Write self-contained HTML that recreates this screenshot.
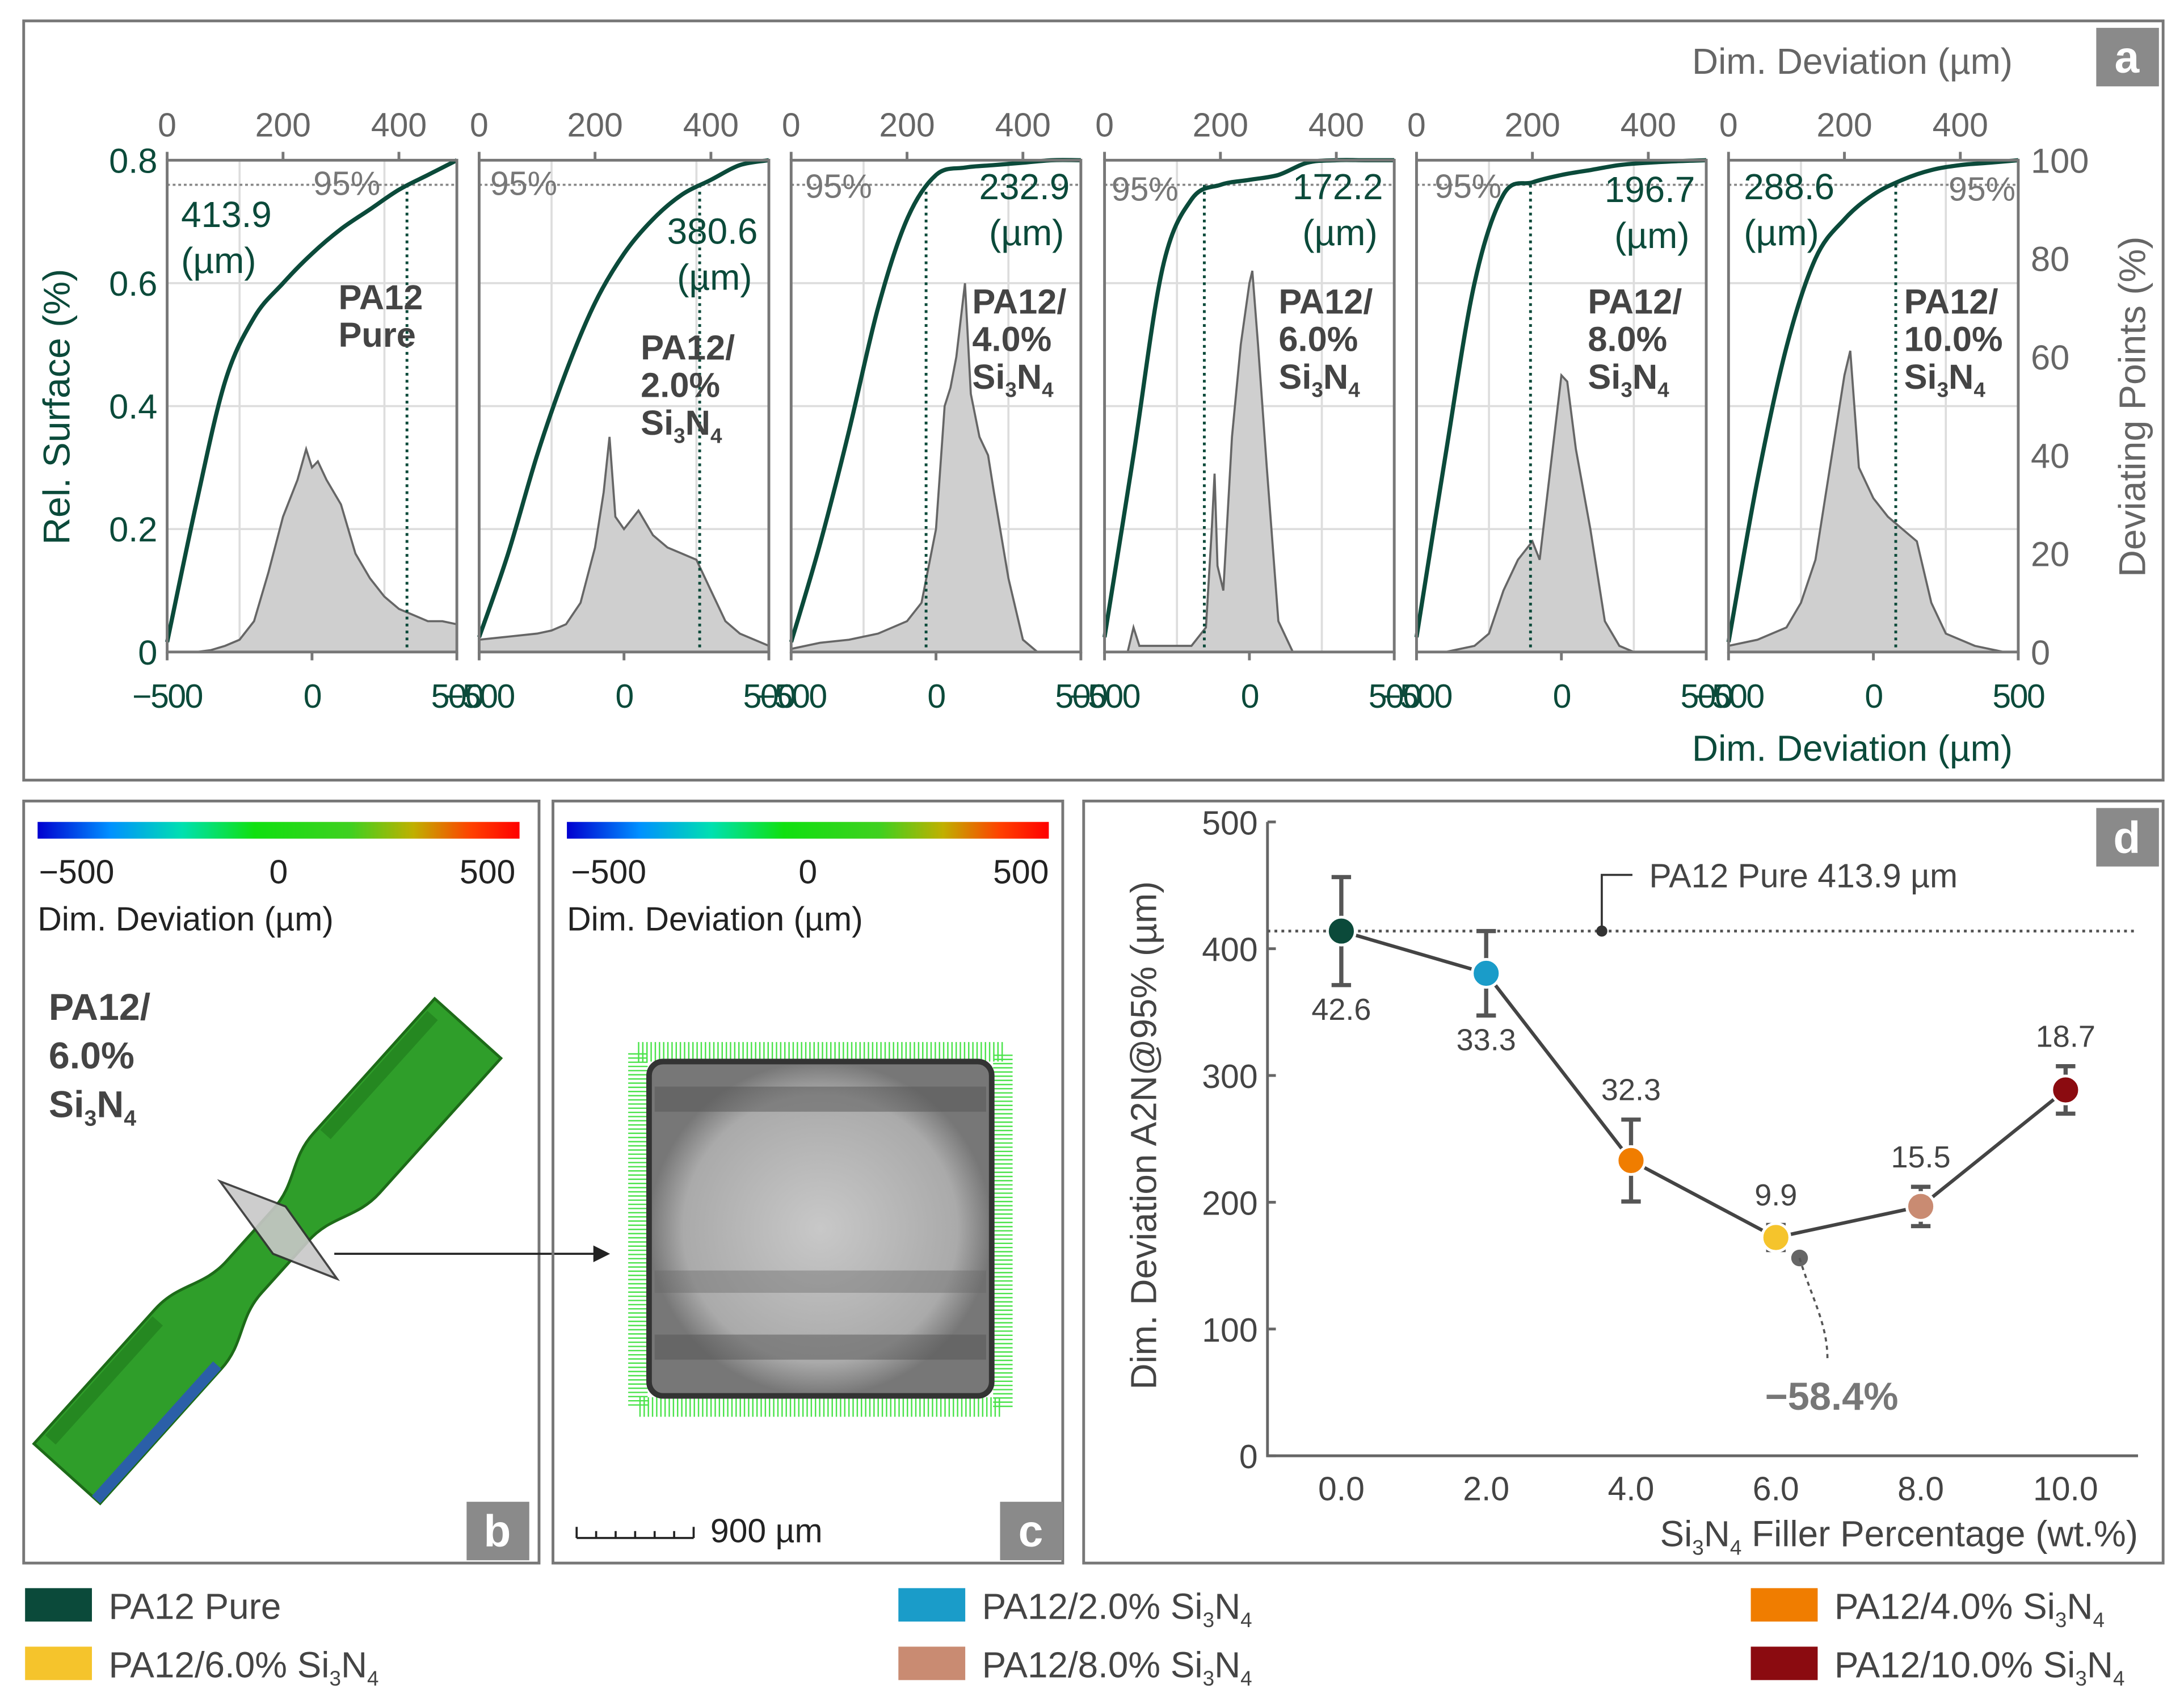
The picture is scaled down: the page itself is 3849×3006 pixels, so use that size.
<!DOCTYPE html>
<html><head><meta charset="utf-8"><style>
html,body{margin:0;padding:0;background:#fff}
svg{display:block}
text{font-family:"Liberation Sans",sans-serif}
</style></head><body>
<svg id="s" width="3849" height="3006" viewBox="0 0 1568 1224.6" preserveAspectRatio="none" xmlns="http://www.w3.org/2000/svg">
<g id="pa">
<rect x="17" y="15" width="1536" height="545" fill="none" stroke="#777" stroke-width="2"/>
<rect x="1505" y="20" width="45" height="42" fill="#8a8a8a"/>
<text x="1527" y="52" font-size="32" font-weight="bold" fill="#fff" text-anchor="middle">a</text>
<text x="1445" y="53" font-size="26" fill="#666" text-anchor="end">Dim. Deviation (µm)</text>
<text x="1445" y="546" font-size="26" fill="#0b4a3a" text-anchor="end">Dim. Deviation (µm)</text>
<text transform="translate(50,292) rotate(-90)" font-size="27" fill="#0b4a3a" text-anchor="middle">Rel. Surface (%)</text>
<text transform="translate(1540,292) rotate(-90)" font-size="27" fill="#666" text-anchor="middle">Deviating Points (%)</text>
</g>
<g id="pb">
<rect x="17" y="575" width="370" height="547" fill="none" stroke="#777" stroke-width="2"/>
<rect x="27" y="590" width="346" height="12" fill="url(#cb)"/>
<text x="55" y="634" font-size="24" fill="#222" text-anchor="middle">−500</text>
<text x="200" y="634" font-size="24" fill="#222" text-anchor="middle">0</text>
<text x="350" y="634" font-size="24" fill="#222" text-anchor="middle">500</text>
<text x="27" y="668" font-size="24" fill="#222">Dim. Deviation (µm)</text>
<text x="35" y="732" font-size="27" font-weight="bold" fill="#444">PA12/</text>
<text x="35" y="767" font-size="27" font-weight="bold" fill="#444">6.0%</text>
<text x="35" y="802" font-size="27" font-weight="bold" fill="#444">Si<tspan font-size="16" dy="6">3</tspan><tspan dy="-6">N</tspan><tspan font-size="16" dy="6">4</tspan></text>
<g transform="translate(192,898) rotate(-48)">
<path d="M-215,-32 L-85,-32 C-60,-32 -50,-17 -25,-17 L25,-17 C50,-17 60,-32 85,-32 L215,-32 L215,32 L85,32 C60,32 50,17 25,17 L-25,17 C-50,17 -60,32 -85,32 L-215,32 Z" fill="#2f9e2a" stroke="#1d6b18" stroke-width="2"/>
<path d="M-205,-25 L-90,-25 M90,-25 L205,-25" stroke="#1f7a1c" stroke-width="10" opacity="0.6"/>
<rect x="-215" y="24" width="130" height="8" fill="#2b5fa8"/>
</g>
<polygon points="158,848 205,866 242,918 196,900" fill="#c8c8c8" stroke="#333" stroke-width="1.5" opacity="0.9"/>
<line x1="240" y1="900" x2="428" y2="900" stroke="#222" stroke-width="1.5"/>
<polygon points="438,900 426,894 426,906" fill="#222"/>
<rect x="335" y="1078" width="45" height="42" fill="#8a8a8a"/>
<text x="357" y="1110" font-size="32" font-weight="bold" fill="#fff" text-anchor="middle">b</text>
</g>
<g id="pc">
<rect x="397" y="575" width="366" height="547" fill="none" stroke="#777" stroke-width="2"/>
<rect x="718" y="1078" width="45" height="42" fill="#8a8a8a"/>
<text x="740" y="1110" font-size="32" font-weight="bold" fill="#fff" text-anchor="middle">c</text>
<rect x="407" y="590" width="346" height="12" fill="url(#cb)"/>
<text x="437" y="634" font-size="24" fill="#222" text-anchor="middle">−500</text>
<text x="580" y="634" font-size="24" fill="#222" text-anchor="middle">0</text>
<text x="733" y="634" font-size="24" fill="#222" text-anchor="middle">500</text>
<text x="407" y="668" font-size="24" fill="#222">Dim. Deviation (µm)</text>
<rect x="458" y="755" width="262" height="255" fill="none" stroke="#4be34b" stroke-width="14" stroke-dasharray="1 2"/>
<rect x="466" y="762" width="246" height="240" rx="10" fill="url(#sec)" stroke="#333" stroke-width="4"/>
<rect x="470" y="780" width="238" height="18" fill="#555" opacity="0.5"/>
<rect x="470" y="912" width="238" height="16" fill="#666" opacity="0.4"/>
<rect x="470" y="958" width="238" height="18" fill="#555" opacity="0.5"/>
<path d="M414,1104 L414,1096 M428,1104 L428,1099 M442,1104 L442,1099 M456,1104 L456,1099 M470,1104 L470,1099 M484,1104 L484,1099 M498,1104 L498,1096 M414,1104 L498,1104" stroke="#222" stroke-width="1.5" fill="none"/>
<text x="510" y="1107" font-size="24" fill="#222">900 µm</text>
</g>
<g id="pd">
<rect x="778" y="575" width="775" height="547" fill="none" stroke="#777" stroke-width="2"/>
<rect x="1505" y="580" width="45" height="42" fill="#8a8a8a"/>
<text x="1527" y="612" font-size="32" font-weight="bold" fill="#fff" text-anchor="middle">d</text>
<text transform="translate(830,815) rotate(-90)" font-size="26" fill="#444" text-anchor="middle">Dim. Deviation A2N@95% (µm)</text>
<text x="1535" y="1110" font-size="26" fill="#444" text-anchor="end">Si<tspan font-size="15" dy="6">3</tspan><tspan dy="-6">N</tspan><tspan font-size="15" dy="6">4</tspan><tspan dy="-6"> Filler Percentage (wt.%)</tspan></text>
</g>
<defs>
<linearGradient id="cb" x1="0" x2="1"><stop offset="0" stop-color="#0000d0"/><stop offset="0.15" stop-color="#0090ff"/><stop offset="0.3" stop-color="#00e0b0"/><stop offset="0.45" stop-color="#10e010"/><stop offset="0.65" stop-color="#40d020"/><stop offset="0.78" stop-color="#c0b000"/><stop offset="0.9" stop-color="#ff4000"/><stop offset="1" stop-color="#ff0000"/></linearGradient>
<radialGradient id="sec"><stop offset="0" stop-color="#c8c8c8"/><stop offset="0.8" stop-color="#aaa"/><stop offset="1" stop-color="#777"/></radialGradient>
</defs>
<g id="legend"></g>
</svg>
<script>
const NS="http://www.w3.org/2000/svg";
const svg=document.getElementById('s');
function mk(tag,attrs,parent,txt){const e=document.createElementNS(NS,tag);for(const k in attrs)e.setAttribute(k,attrs[k]);if(txt!==undefined)e.textContent=txt;(parent||svg).appendChild(e);return e;}
function smooth(pts){let d='M'+pts[0][0].toFixed(1)+','+pts[0][1].toFixed(1);for(let i=0;i<pts.length-1;i++){const p0=pts[i-1]||pts[i],p1=pts[i],p2=pts[i+1],p3=pts[i+2]||p2;const c1=[p1[0]+(p2[0]-p0[0])/6,p1[1]+(p2[1]-p0[1])/6],c2=[p2[0]-(p3[0]-p1[0])/6,p2[1]-(p3[1]-p1[1])/6];d+=` C${c1[0].toFixed(1)},${c1[1].toFixed(1)} ${c2[0].toFixed(1)},${c2[1].toFixed(1)} ${p2[0].toFixed(1)},${p2[1].toFixed(1)}`;}return d;}

// ---- Panel a data ----
const subplotNames=[["PA12","Pure"],["PA12/","2.0%","Si3N4"],["PA12/","4.0%","Si3N4"],["PA12/","6.0%","Si3N4"],["PA12/","8.0%","Si3N4"],["PA12/","10.0%","Si3N4"]];
const a95Values=[413.9,380.6,232.9,172.2,196.7,288.6];
const histX1=[-500,-450,-400,-350,-300,-250,-200,-150,-100,-50,-20,0,20,50,100,150,200,250,300,350,400,450,500];
const histY1=[0,0,0,0.003,0.01,0.02,0.05,0.13,0.22,0.28,0.33,0.3,0.31,0.28,0.24,0.16,0.12,0.09,0.07,0.06,0.05,0.05,0.045];
const histX2=[-500,-400,-300,-250,-200,-150,-100,-70,-50,-30,0,50,100,150,200,250,300,350,400,450,500];
const histY2=[0.02,0.025,0.03,0.035,0.045,0.08,0.17,0.26,0.35,0.22,0.2,0.23,0.19,0.17,0.16,0.15,0.1,0.05,0.03,0.02,0.01];
const histX3=[-500,-400,-300,-200,-100,-50,0,30,50,70,100,120,150,180,200,250,300,350,400,500];
const histY3=[0.005,0.015,0.02,0.03,0.05,0.08,0.2,0.4,0.43,0.48,0.6,0.42,0.35,0.32,0.26,0.12,0.02,0,0,0];
const histX4=[-500,-420,-400,-380,-350,-300,-200,-150,-130,-120,-110,-90,-60,-30,0,10,30,60,100,150,500];
const histY4=[0,0,0.04,0.01,0.01,0.01,0.01,0.04,0.2,0.29,0.14,0.1,0.35,0.5,0.6,0.62,0.5,0.3,0.05,0,0];
const histX5=[-500,-400,-300,-250,-200,-150,-100,-75,-50,0,20,50,100,150,200,250,500];
const histY5=[0,0,0.01,0.03,0.1,0.15,0.18,0.15,0.25,0.45,0.44,0.33,0.2,0.05,0.01,0,0];
const histX6=[-500,-400,-300,-250,-200,-150,-100,-80,-50,0,50,100,150,200,250,300,350,400,450,500];
const histY6=[0.01,0.02,0.04,0.08,0.15,0.3,0.45,0.49,0.3,0.25,0.22,0.2,0.18,0.08,0.03,0.02,0.01,0.005,0,0];
const cdfX=[0,50,100,150,200,250,300,350,400,450,500];
const cdf1=[2,30,55,68,75,81,86,90,94,97,100];
const cdf2=[3,20,40,57,71,81,88,93,96,99,100];
const cdf3=[2,22,45,70,88,97,98.5,99,99.5,100,100];
const cdf4=[3,40,78,92,95,96,97,99.5,100,100,100];
const cdf5=[3,40,75,93,95.5,97,98,99,99.5,99.8,100];
const cdf6=[2,35,62,80,88,93,96,98,99,99.5,100];
const leftTicks=[0,0.2,0.4,0.6,0.8];
const rightTicks=[0,20,40,60,80,100];
const bottomTicks=[-500,0,500];
const topTicks=[0,200,400];
const histXs=[histX1,histX2,histX3,histX4,histX5,histX6];
const histYs=[histY1,histY2,histY3,histY4,histY5,histY6];
const cdfs=[cdf1,cdf2,cdf3,cdf4,cdf5,cdf6];

const plotLeft=[120,344,568,793,1017,1241], plotW=208, pTop=115, pBot=468;
const labelLayouts=[
 {vx:130,vy:163,va:'start',px:225,py:140,nx:243,ny:222},
 {vx:544,vy:175,va:'end',px:352,py:140,nx:460,ny:258},
 {vx:768,vy:143,va:'end',px:578,py:142,nx:698,ny:225},
 {vx:993,vy:143,va:'end',px:798,py:144,nx:918,ny:225},
 {vx:1217,vy:145,va:'end',px:1030,py:142,nx:1140,ny:225},
 {vx:1252,vy:143,va:'start',px:1447,py:144,nx:1367,ny:225}];
const pa=document.getElementById('pa');
for(let i=0;i<6;i++){
 const L=plotLeft[i];
 const xb=v=>L+(v+500)/1000*plotW;
 const xt=v=>L+v/500*plotW;
 const yl=v=>pBot-v/0.8*(pBot-pTop);
 const yr=v=>pBot-v/100*(pBot-pTop);
 const g=mk('g',{},pa);
 
 
 [0.2,0.4,0.6].forEach(t=>{const l=mk('line',{x1:L,x2:L+plotW,y1:yl(t),y2:yl(t),stroke:'#ddd','stroke-width':1.5},g);});
 [-250,250].forEach(t=>{const l=mk('line',{x1:xb(t),x2:xb(t),y1:pTop,y2:pBot,stroke:'#ddd','stroke-width':1.5},g);});
 const hx=histXs[i],hy=histYs[i];
 let d='M'+xb(hx[0])+','+pBot;
 hx.forEach((x,k)=>{d+=' L'+xb(x).toFixed(1)+','+yl(hy[k]).toFixed(1);});
 d+=' L'+xb(hx[hx.length-1])+','+pBot+' Z';
 const h=mk('path',{d:d,fill:'#cfcfcf',stroke:'#666','stroke-width':1.5},g);
 
 
 const v95=a95Values[i];
 const hl=mk('line',{x1:L,x2:L+plotW,y1:yr(95),y2:yr(95),stroke:'#888','stroke-width':1.5,'stroke-dasharray':'2 2'},g);
 
 
 const vl=mk('line',{x1:xt(v95),x2:xt(v95),y1:yr(95),y2:pBot,stroke:'#0b4a3a','stroke-width':2,'stroke-dasharray':'2 3'},g);
 
 
 const c=cdfs[i];
 const cp=mk('path',{d:smooth(cdfX.map((x,k)=>[xt(x),yr(c[k])])),fill:'none',stroke:'#0b4a3a','stroke-width':3,'stroke-linejoin':'round'},g);
 
 
 const fr=mk('path',{d:`M${L},${pTop} L${L},${pBot} L${L+plotW},${pBot} L${L+plotW},${pTop} Z`,fill:'none',stroke:'#777','stroke-width':2},g);
 
 
 bottomTicks.forEach(t=>{const tx=mk('text',{x:xb(t),y:508,'font-size':24,'letter-spacing':'-1',fill:'#0b4a3a','text-anchor':'middle'},g,t<0?'−'+(-t):String(t));
  const tk=mk('line',{x1:xb(t),x2:xb(t),y1:pBot,y2:pBot+6,stroke:'#777','stroke-width':2},g);});
 topTicks.forEach(t=>{const tx=mk('text',{x:xt(t),y:98,'font-size':24,fill:'#666','text-anchor':'middle'},g,String(t));
  const tk=mk('line',{x1:xt(t),x2:xt(t),y1:pTop,y2:pTop-6,stroke:'#777','stroke-width':2},g);});
 if(i===0){leftTicks.forEach(t=>{const tx=mk('text',{x:113,y:yl(t)+9,'font-size':25,fill:'#0b4a3a','text-anchor':'end'},g,t===0?'0':String(t));});}
 if(i===5){rightTicks.forEach(t=>{const tx=mk('text',{x:1458,y:yr(t)+9,'font-size':25,fill:'#666'},g,String(t));});}
 const lay=labelLayouts[i];
 const t1=mk('text',{x:lay.vx,y:lay.vy,'font-size':26,fill:'#0b4a3a','text-anchor':lay.va},g,String(v95));
 
 
 const t2=mk('text',{x:lay.vx+(lay.va==='end'?-4:0),y:lay.vy+33,'font-size':26,fill:'#0b4a3a','text-anchor':lay.va},g,'(µm)');
 
 
 const t3=mk('text',{x:lay.px,y:lay.py,'font-size':24,fill:'#777','text-anchor':i===5?'end':'start'},g,'95%');
 
 
 subplotNames[i].forEach((s,k)=>{
  const t=mk('text',{x:lay.nx,y:lay.ny+k*27,'font-size':25,'font-weight':'bold',fill:'#444'},g);
  
  
  if(s==='Si3N4'){t.innerHTML='Si<tspan font-size="15" dy="6">3</tspan><tspan dy="-6">N</tspan><tspan font-size="15" dy="6">4</tspan>';}else t.textContent=s;
 });
}

// ---- Panel d data ----
const fillers=[0,2,4,6,8,10];
const a95=[413.9,380.6,232.9,172.2,196.7,288.6];
const stds=[42.6,33.3,32.3,9.9,15.5,18.7];
const dColors=['#0b4a3a','#1a9cc9','#f07d00','#f5c42c','#c98b72','#8b0b10'];
const dYTicks=[0,100,200,300,400,500];
const dXTicks=[0,2,4,6,8,10];
const pd=document.getElementById('pd');
const dx=v=>963+v/10*(1483-963);
const dy=v=>1045-v/500*(1045-590);
const ax=mk('path',{d:'M910,590 L910,1045 L1535,1045',fill:'none',stroke:'#666','stroke-width':2},pd);


dYTicks.forEach(t=>{const tx=mk('text',{x:903,y:dy(t)+9,'font-size':24,fill:'#444','text-anchor':'end'},pd,String(t));
 const tk=mk('line',{x1:910,x2:916,y1:dy(t),y2:dy(t),stroke:'#666','stroke-width':2},pd);});
dXTicks.forEach(t=>{const tx=mk('text',{x:dx(t),y:1077,'font-size':24,fill:'#444','text-anchor':'middle'},pd,t.toFixed(1));});
const ref=mk('line',{x1:910,x2:1535,y1:dy(a95[0]),y2:dy(a95[0]),stroke:'#555','stroke-width':2,'stroke-dasharray':'2 3'},pd);


const rd=mk('circle',{cx:1150,cy:dy(a95[0]),r:4,fill:'#333'},pd);


const rl=mk('path',{d:`M1150,${dy(a95[0])} L1150,628 L1172,628`,fill:'none',stroke:'#333','stroke-width':1.5},pd);


const rt=mk('text',{x:1184,y:637,'font-size':24,fill:'#444'},pd,'PA12 Pure 413.9 µm');


let ld='';
fillers.forEach((f,k)=>{ld+=(k?' L':'M')+dx(f)+','+dy(a95[k]);});
const line=mk('path',{d:ld,fill:'none',stroke:'#444','stroke-width':2.5},pd);


fillers.forEach((f,k)=>{
 const x=dx(f),y1=dy(a95[k]+stds[k]),y2=dy(a95[k]-stds[k]);
 const e=mk('path',{d:`M${x},${y1} L${x},${y2} M${x-7},${y1} L${x+7},${y1} M${x-7},${y2} L${x+7},${y2}`,stroke:'#555','stroke-width':3,fill:'none'},pd);
 
 
 const c=mk('circle',{cx:x,cy:dy(a95[k]),r:10,fill:dColors[k],stroke:'#fff','stroke-width':2},pd);
 
 
 const below=k<2;
 const t=mk('text',{x:x,y:below?y2+25:y1-14,'font-size':22,fill:'#444','text-anchor':'middle'},pd,String(stds[k]));
 
 
});
const md=mk('circle',{cx:1292,cy:903,r:6,fill:'#666'},pd);


const ml=mk('path',{d:'M1292,903 C1300,930 1312,950 1312,975',fill:'none',stroke:'#555','stroke-width':1.5,'stroke-dasharray':'3 3'},pd);


const mt=mk('text',{x:1315,y:1012,'font-size':28,'font-weight':'bold',fill:'#777','text-anchor':'middle'},pd,'−58.4%');



// ---- Legend ----
const legNames=['PA12 Pure','PA12/2.0% ','PA12/4.0% ','PA12/6.0% ','PA12/8.0% ','PA12/10.0% '];
const legPos=[[18,1140],[645,1140],[1257,1140],[18,1182],[645,1182],[1257,1182]];
const lg=document.getElementById('legend');
legNames.forEach((n,k)=>{
 const r=mk('rect',{x:legPos[k][0],y:legPos[k][1],width:48,height:24,fill:dColors[k]},lg);
 
 
 const t=mk('text',{x:legPos[k][0]+60,y:legPos[k][1]+22,'font-size':26,fill:'#444'},lg);
 
 
 t.innerHTML=n+(k?'Si<tspan font-size="15" dy="6">3</tspan><tspan dy="-6">N</tspan><tspan font-size="15" dy="6">4</tspan>':'');
});
</script>
</body></html>
